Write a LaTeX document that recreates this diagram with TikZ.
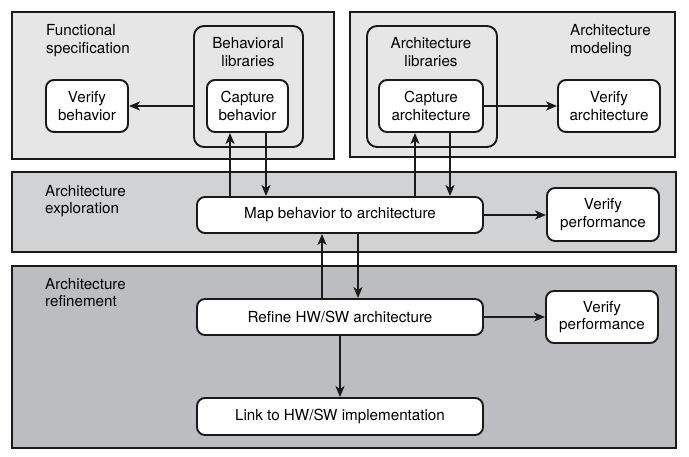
\documentclass[tikz,border=0pt]{standalone}
\usepackage{fontspec}
\setmainfont{TeX Gyre Heros}
\usetikzlibrary{arrows.meta}
\definecolor{panelA}{HTML}{E6E6E6}
\definecolor{panelB}{HTML}{D1D2D4}
\definecolor{panelC}{HTML}{BCBDC1}
\definecolor{ink}{HTML}{1A1A1A}
\begin{document}
\begin{tikzpicture}[x=1pt,y=-1pt, font=\fontsize{15.2}{17.5}\selectfont,
 panel/.style={draw=ink, line width=2.2pt, rectangle, inner sep=0pt},
 box/.style={draw=ink, line width=1.9pt, fill=white, rounded corners=8pt, align=center, inner sep=0pt},
 lib/.style={draw=ink, line width=1.9pt, rounded corners=10pt, inner sep=0pt},
 lbl/.style={align=left, inner sep=0pt, anchor=base west},
 clbl/.style={align=center, inner sep=0pt, anchor=base},
 arr/.style={draw=ink, line width=2pt, -{Stealth[length=11pt,width=9pt,inset=3pt]}}]
\useasboundingbox (0,0) rectangle (689,457);
% panels
\node[panel, fill=panelA, minimum width=322pt, minimum height=147pt] (fs) at (173,85.5) {};
\node[panel, fill=panelA, minimum width=325pt, minimum height=145pt] (am) at (512.5,84.5) {};
\node[panel, fill=panelB, minimum width=664pt, minimum height=80pt] (ex) at (344,212) {};
\node[panel, fill=panelC, minimum width=664pt, minimum height=182pt] (rf) at (344,357) {};
% panel labels (anchor = baseline of last line)
\node[lbl] (fsl) at (46,53.5) {Functional\\specification};
\node[lbl] (aml) at (570,53.5) {Architecture\\modeling};
\node[lbl] (exl) at (45,214) {Architecture\\exploration};
\node[lbl] (rfl) at (45,307) {Architecture\\refinement};
% libraries
\node[lib, minimum width=109pt, minimum height=121pt] (blib) at (248.5,86.5) {};
\node[lib, minimum width=130pt, minimum height=121pt] (alib) at (432,86.5) {};
\node[clbl] (blibl) at (248,66.5) {Behavioral\\libraries};
\node[clbl] (alibl) at (431,66.5) {Architecture\\libraries};
% boxes
\node[box, minimum width=81pt, minimum height=52pt] (capb) at (247.5,106) {Capture\\behavior};
\node[box, minimum width=82pt, minimum height=52pt] (vb) at (87,106) {Verify\\behavior};
\node[box, minimum width=104pt, minimum height=52pt] (capa) at (431,106) {Capture\\architecture};
\node[box, minimum width=102pt, minimum height=52pt] (va) at (609,106) {Verify\\architecture};
\node[box, minimum width=286pt, minimum height=36pt] (map) at (340,215) {Map behavior to architecture};
\node[box, minimum width=112pt, minimum height=53pt] (vp1) at (603,214.5) {Verify\\performance};
\node[box, minimum width=286pt, minimum height=36pt] (ref) at (340,317) {Refine HW/SW architecture};
\node[box, minimum width=112pt, minimum height=52pt] (vp2) at (602,317) {Verify\\performance};
\node[box, minimum width=286pt, minimum height=37pt] (link) at (340,416.5) {Link to HW/SW implementation};
% x positions of vertical connectors
\coordinate (xa) at (230,0);
\coordinate (xb) at (266,0);
\coordinate (xc) at (415,0);
\coordinate (xd) at (450,0);
\coordinate (xe) at (322,0);
\coordinate (xf) at (358,0);
\coordinate (xg) at (340,0);
% connectors
\draw[arr] (blib.west |- capb.west) -- (vb.east);
\draw[arr] (capa.east) -- (va.west);
\draw[arr] (map.north -| xa) -- (capb.south -| xa);
\draw[arr] (capb.south -| xb) -- (map.north -| xb);
\draw[arr] (map.north -| xc) -- (capa.south -| xc);
\draw[arr] (capa.south -| xd) -- (map.north -| xd);
\draw[arr] (map.east) -- (vp1.west |- map.east);
\draw[arr] (ref.north -| xe) -- (map.south -| xe);
\draw[arr] (map.south -| xf) -- (ref.north -| xf);
\draw[arr] (ref.east) -- (vp2.west |- ref.east);
\draw[arr] (ref.south -| xg) -- (link.north -| xg);
\end{tikzpicture}
\end{document}
